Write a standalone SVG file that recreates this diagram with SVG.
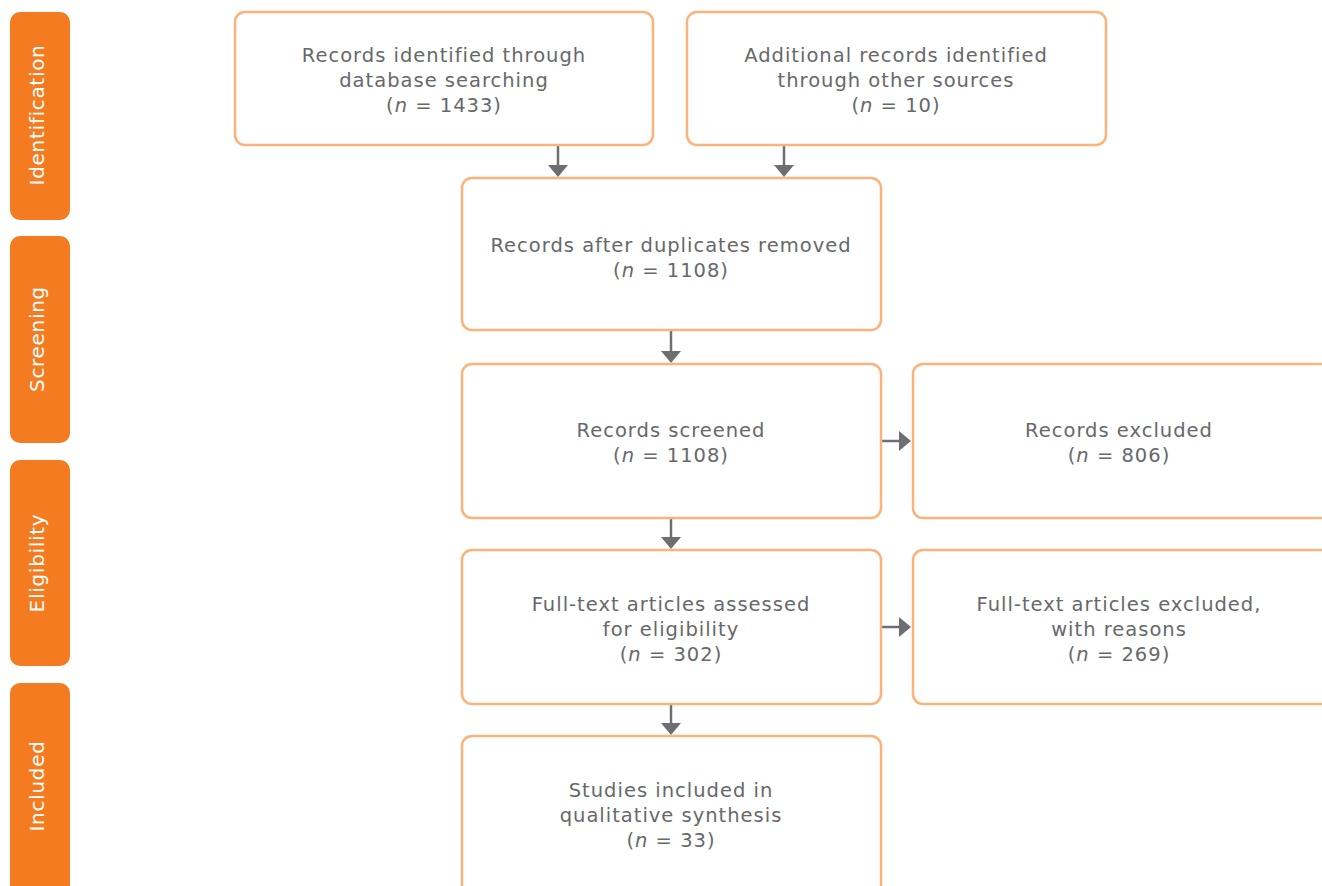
<svg xmlns="http://www.w3.org/2000/svg" width="1322" height="886" viewBox="0 0 1322 886">
<style>
.stage{fill:#f47b20}
.stxt{fill:#fff;font-family:"DejaVu Sans",sans-serif;font-size:20px;letter-spacing:0.7px;text-anchor:middle}
.box{fill:#fff;stroke:#fbb27b;stroke-width:2.5}
.t{fill:#67686b;font-family:"DejaVu Sans",sans-serif;font-size:19.5px;letter-spacing:1px;text-anchor:middle}
.ln{stroke:#6d6e71;stroke-width:2.5;fill:none}
.hd{fill:#6d6e71}
</style>
<rect width="1322" height="886" fill="#fff"/>
<g id="stage-identification"><rect class="stage" x="10" y="12" width="60" height="208" rx="10"/><text class="stxt" transform="translate(44 115) rotate(-90)">Identification</text></g>
<g id="stage-screening"><rect class="stage" x="10" y="236" width="60" height="207" rx="10"/><text class="stxt" transform="translate(44 339) rotate(-90)">Screening</text></g>
<g id="stage-eligibility"><rect class="stage" x="10" y="460" width="60" height="206" rx="10"/><text class="stxt" transform="translate(44 563) rotate(-90)">Eligibility</text></g>
<g id="stage-included"><rect class="stage" x="10" y="683" width="60" height="215" rx="10"/><text class="stxt" transform="translate(44 786) rotate(-90)">Included</text></g>

<g id="connectors">
<line class="ln" x1="558" y1="146" x2="558" y2="166"/><path class="hd" d="M548 165 L568 165 L558 177 Z"/>
<line class="ln" x1="784" y1="146" x2="784" y2="166"/><path class="hd" d="M774 165 L794 165 L784 177 Z"/>
<line class="ln" x1="671" y1="331" x2="671" y2="352"/><path class="hd" d="M661 351 L681 351 L671 363 Z"/>
<line class="ln" x1="671" y1="519" x2="671" y2="538"/><path class="hd" d="M661 537 L681 537 L671 549 Z"/>
<line class="ln" x1="671" y1="705" x2="671" y2="724"/><path class="hd" d="M661 723 L681 723 L671 735 Z"/>
<line class="ln" x1="880" y1="441" x2="900" y2="441"/><path class="hd" d="M899 431 L899 451 L911 441 Z"/>
<line class="ln" x1="880" y1="627" x2="900" y2="627"/><path class="hd" d="M899 617 L899 637 L911 627 Z"/>
</g>

<g id="n1"><rect class="box" x="235" y="12" width="418" height="133" rx="10"/>
<text class="t" x="444" y="62">Records identified through</text>
<text class="t" x="444" y="87">database searching</text>
<text class="t" x="444" y="112">(<tspan font-style="italic">n</tspan> = 1433)</text></g>
<g id="n2"><rect class="box" x="687" y="12" width="419" height="133" rx="10"/>
<text class="t" x="896" y="62">Additional records identified</text>
<text class="t" x="896" y="87">through other sources</text>
<text class="t" x="896" y="112">(<tspan font-style="italic">n</tspan> = 10)</text></g>
<g id="n3"><rect class="box" x="462" y="178" width="419" height="152" rx="10"/>
<text class="t" x="671" y="252">Records after duplicates removed</text>
<text class="t" x="671" y="277">(<tspan font-style="italic">n</tspan> = 1108)</text></g>
<g id="n4"><rect class="box" x="462" y="364" width="419" height="154" rx="10"/>
<text class="t" x="671" y="437">Records screened</text>
<text class="t" x="671" y="462">(<tspan font-style="italic">n</tspan> = 1108)</text></g>
<g id="n5"><rect class="box" x="913" y="364" width="430" height="154" rx="10"/>
<text class="t" x="1119" y="437">Records excluded</text>
<text class="t" x="1119" y="462">(<tspan font-style="italic">n</tspan> = 806)</text></g>
<g id="n6"><rect class="box" x="462" y="550" width="419" height="154" rx="10"/>
<text class="t" x="671" y="611">Full-text articles assessed</text>
<text class="t" x="671" y="636">for eligibility</text>
<text class="t" x="671" y="661">(<tspan font-style="italic">n</tspan> = 302)</text></g>
<g id="n7"><rect class="box" x="913" y="550" width="430" height="154" rx="10"/>
<text class="t" x="1119" y="611">Full-text articles excluded,</text>
<text class="t" x="1119" y="636">with reasons</text>
<text class="t" x="1119" y="661">(<tspan font-style="italic">n</tspan> = 269)</text></g>
<g id="n8"><rect class="box" x="462" y="736" width="419" height="160" rx="10"/>
<text class="t" x="671" y="797">Studies included in</text>
<text class="t" x="671" y="822">qualitative synthesis</text>
<text class="t" x="671" y="847">(<tspan font-style="italic">n</tspan> = 33)</text></g>
</svg>
